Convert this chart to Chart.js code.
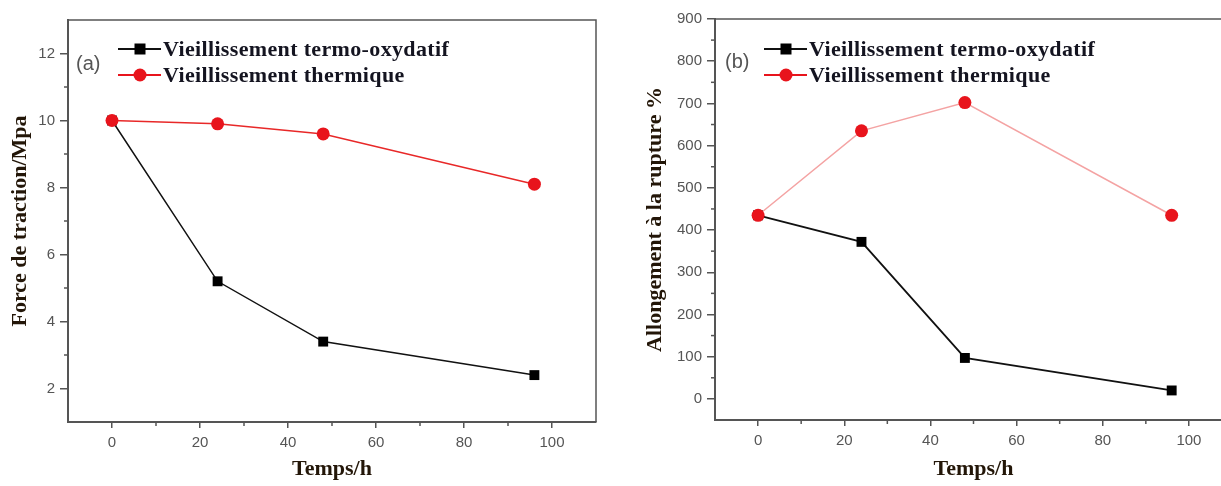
<!DOCTYPE html>
<html>
<head>
<meta charset="utf-8">
<script src="https://cdn.jsdelivr.net/npm/chart.js@4.4.0/dist/chart.umd.min.js"></script>
<style>
  html, body { margin: 0; padding: 0; background: #fff; }
  body { width: 1221px; height: 486px; overflow: hidden; position: relative; }
  canvas { position: absolute; top: 0; }
  #chart-a { left: 0; }
  #chart-b { left: 620px; }
  .panel-tag { position: absolute; font: 20px 'Liberation Sans', Arial, sans-serif; color: #555; }
  .legend-row { position: absolute; display: flex; align-items: center; height: 26px; white-space: nowrap; }
  .sample { position: relative; width: 43px; height: 26px; }
  .sample .line { position: absolute; left: 0; right: 0; top: 12px; height: 2px; }
  .sample .mark { position: absolute; left: 50%; top: 50%; transform: translate(-50%, -50%); }
  .sample .sq { width: 11px; height: 11px; background: #000; }
  .sample .dot { width: 13px; height: 13px; border-radius: 50%; background: #e8141c; }
  .legend-row .label { font: bold 22px 'Liberation Serif', 'Times New Roman', serif; color: #141420; margin-left: 2px; letter-spacing: 0.35px; }
</style>
</head>
<body>
<canvas id="chart-a" width="610" height="486"></canvas>
<canvas id="chart-b" width="640" height="486"></canvas>

<div class="panel-tag" style="left:76px; top:52px;">(a)</div>
<div class="legend-row" style="left:118px; top:36px;">
  <div class="sample"><div class="line" style="background:#111"></div><div class="mark sq"></div></div>
  <span class="label">Vieillissement termo-oxydatif</span>
</div>
<div class="legend-row" style="left:118px; top:62px;">
  <div class="sample"><div class="line" style="background:#e8141c"></div><div class="mark dot"></div></div>
  <span class="label">Vieillissement thermique</span>
</div>

<div class="panel-tag" style="left:725px; top:50px;">(b)</div>
<div class="legend-row" style="left:764px; top:36px;">
  <div class="sample"><div class="line" style="background:#111"></div><div class="mark sq"></div></div>
  <span class="label">Vieillissement termo-oxydatif</span>
</div>
<div class="legend-row" style="left:764px; top:62px;">
  <div class="sample"><div class="line" style="background:#e8141c"></div><div class="mark dot"></div></div>
  <span class="label">Vieillissement thermique</span>
</div>

<script>
// Ageing time (h)
const hours = [0, 24, 48, 96];

// (a) tensile strength, MPa
const forceThermoOx = [10, 5.2, 3.4, 2.4];
const forceThermal = [10, 9.9, 9.6, 8.1];

// (b) elongation at break, %
const elongThermoOx = [435, 372, 97, 20];
const elongThermal = [435, 635, 702, 435];

// axis ticks
const xTicks = [0, 20, 40, 60, 80, 100];
const xMinor = [10, 30, 50, 70, 90];
const forceTicks = [2, 4, 6, 8, 10, 12];
const forceMinor = [3, 5, 7, 9, 11];
const elongTicks = [0, 100, 200, 300, 400, 500, 600, 700, 800, 900];
const elongMinor = [50, 150, 250, 350, 450, 550, 650, 750, 850];

const axisGrey = '#555';
const tickFont = { family: "'Liberation Sans', Arial, sans-serif", size: 15 };
const titleFont = { family: "'Liberation Serif', 'Times New Roman', serif", size: 22, weight: 'bold' };
const titleColor = '#231608';

// top/right frame and short minor ticks, placed with the chart's scales
function framePlugin(minX, minY) {
  return {
    id: 'frame',
    afterDraw(chart) {
      const { ctx, chartArea: ca, scales } = chart;
      ctx.save();
      ctx.strokeStyle = axisGrey;
      ctx.lineWidth = 1.5;
      ctx.beginPath();
      ctx.moveTo(ca.left, ca.top);
      ctx.lineTo(ca.right, ca.top);
      ctx.lineTo(ca.right, ca.bottom);
      ctx.stroke();
      minX.forEach(v => {
        const px = scales.x.getPixelForValue(v);
        ctx.beginPath(); ctx.moveTo(px, ca.bottom); ctx.lineTo(px, ca.bottom + 4); ctx.stroke();
      });
      minY.forEach(v => {
        const py = scales.y.getPixelForValue(v);
        ctx.beginPath(); ctx.moveTo(ca.left, py); ctx.lineTo(ca.left - 4, py); ctx.stroke();
      });
      ctx.restore();
    }
  };
}

function makeChart(id, o) {
  return new Chart(document.getElementById(id), {
    type: 'line',
    data: {
      datasets: [
        {
          label: 'Vieillissement termo-oxydatif',
          data: hours.map((h, i) => ({ x: h, y: o.oxy[i] })),
          borderColor: '#111',
          borderWidth: o.blackWidth,
          pointStyle: 'rect',
          pointRadius: 7,
          pointBackgroundColor: '#000',
          pointBorderColor: '#000',
          pointBorderWidth: 0,
          order: 1
        },
        {
          label: 'Vieillissement thermique',
          data: hours.map((h, i) => ({ x: h, y: o.thermal[i] })),
          borderColor: o.redLine,
          borderWidth: 1.5,
          pointStyle: 'circle',
          pointRadius: 6.5,
          pointBackgroundColor: '#e8141c',
          pointBorderColor: '#e8141c',
          pointBorderWidth: 0,
          order: 0
        }
      ]
    },
    options: {
      responsive: false,
      animation: false,
      devicePixelRatio: 1,
      layout: { padding: { top: o.top, right: o.right, left: 0, bottom: 0 } },
      plugins: { legend: { display: false }, tooltip: { enabled: false } },
      scales: {
        x: {
          type: 'linear',
          min: -10,
          max: 110,
          afterBuildTicks: s => { s.ticks = xTicks.map(v => ({ value: v })); },
          afterFit: s => { s.height = o.xHeight; },
          ticks: { font: tickFont, color: axisGrey, padding: 6, maxRotation: 0 },
          grid: { drawOnChartArea: false, drawTicks: true, tickLength: 6, color: axisGrey, lineWidth: 1.5 },
          border: { display: true, color: axisGrey, width: 2 },
          title: { display: true, text: 'Temps/h', font: titleFont, color: titleColor, padding: { top: 0, bottom: 3 } }
        },
        y: {
          type: 'linear',
          min: o.yMin,
          max: o.yMax,
          afterBuildTicks: s => { s.ticks = o.yTicks.map(v => ({ value: v })); },
          afterFit: s => { s.width = o.yWidth; },
          ticks: { font: tickFont, color: axisGrey, padding: 5 },
          grid: { drawOnChartArea: false, drawTicks: true, tickLength: 8, color: axisGrey, lineWidth: 1.5 },
          border: { display: true, color: axisGrey, width: 2 },
          title: { display: true, text: o.yTitle, font: titleFont, color: titleColor, padding: { top: o.yTitlePad, bottom: 0 } }
        }
      }
    },
    plugins: [framePlugin(xMinor, o.yMinor)]
  });
}

makeChart('chart-a', {
  oxy: forceThermoOx, thermal: forceThermal,
  redLine: '#e82828', blackWidth: 1.5,
  yMin: 1, yMax: 13, yTicks: forceTicks, yMinor: forceMinor,
  yTitle: 'Force de traction/Mpa', yTitlePad: 7,
  top: 20, right: 14, xHeight: 64, yWidth: 68
});

makeChart('chart-b', {
  oxy: elongThermoOx, thermal: elongThermal,
  redLine: '#f4a3a3', blackWidth: 1.8,
  yMin: -50, yMax: 900, yTicks: elongTicks, yMinor: elongMinor,
  yTitle: 'Allongement à la rupture %', yTitlePad: 22,
  top: 19, right: 28, xHeight: 66, yWidth: 95
});
</script>
</body>
</html>
